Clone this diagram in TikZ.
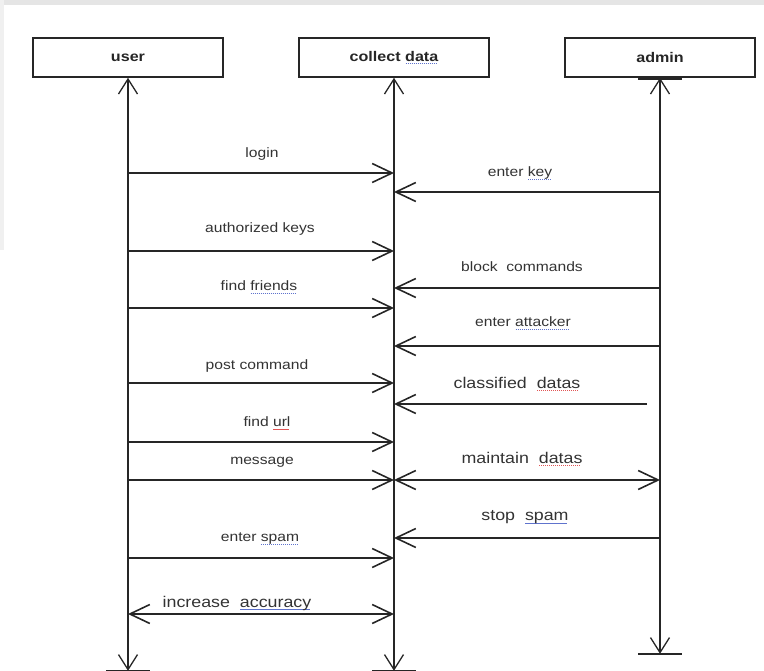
\documentclass[tikz,border=0pt]{standalone}
\usepackage{fontspec}
\setmainfont[FakeStretch=1.15]{Liberation Sans}
\usetikzlibrary{arrows.meta, positioning}

\definecolor{sqblue}{RGB}{95,115,205}
\definecolor{sqred}{RGB}{225,85,85}
\newsavebox{\sqword}
\newcommand{\sq}[2]{\sbox{\sqword}{#2}\rlap{\raisebox{-3pt}{\textcolor{#1}{\hbox to \wd\sqword{\leaders\hbox to 2pt{\hss\rule{1.2pt}{0.9pt}\hss}\hfill}}}}\usebox{\sqword}}

\tikzstyle{actor} = [rectangle, draw=black!85, line width=1.6pt, minimum width=190pt, minimum height=39pt, text=black!85, font=\bfseries\fontsize{14}{16}\selectfont]
\tikzstyle{life} = [line width=1.3pt, draw=black!85, <->, >={Straight Barb[length=15pt,width=19pt]}]
\tikzstyle{tee} = [line width=2.2pt, draw=black!85]
\tikzstyle{msg} = [line width=1.6pt, draw=black!85, ->, >={Straight Barb[length=20pt,width=19pt]}]
\tikzstyle{lbl} = [inner sep=0pt, text=black!80, font=\fontsize{13.6}{16}\selectfont]
\tikzstyle{biglbl} = [inner sep=0pt, text=black!80, font=\fontsize{15.5}{18}\selectfont]

\begin{document}
\begin{tikzpicture}[x=1pt, y=-1pt, node distance=266pt]
\useasboundingbox (0,0) rectangle (764,671);
\fill [black!10] (0,0) rectangle (764,5);
\fill [black!6] (0,0) rectangle (4,250);

% lifelines
\node (user) [actor] at (128,57.5) {user};
\node (data) [actor, right of = user] {collect \sq{sqblue}{data}};
\node (admin) [actor, right of = data] {admin};

\coordinate (userend) at ([yshift=-593pt]user.south);
\coordinate (dataend) at ([yshift=-593pt]data.south);
\coordinate (adminend) at ([yshift=-576pt]admin.south);

\draw [life] (user.south) -- (userend);
\draw [life] (data.south) -- (dataend);
\draw [life] (admin.south) -- (adminend);
\draw [tee] ([xshift=-22pt]userend) -- ([xshift=22pt]userend);
\draw [tee] ([xshift=-22pt]dataend) -- ([xshift=22pt]dataend);
\draw [tee] ([xshift=-22pt]adminend) -- ([xshift=22pt]adminend);
\draw [tee] ([xshift=-22pt,yshift=-1.5pt]admin.south) -- ([xshift=22pt,yshift=-1.5pt]admin.south);

% user -> collect data
\node (login) [lbl] at (262,154) {login};
\draw [msg] (user |- 0,173) -- (data |- 0,173);
\node (authkeys) [lbl] at (260,229) {authorized keys};
\draw [msg] (user |- 0,251) -- (data |- 0,251);
\node (friends) [lbl] at (259,287) {find \sq{sqblue}{friends}};
\draw [msg] (user |- 0,308) -- (data |- 0,308);
\node (post) [lbl] at (257,366) {post command};
\draw [msg] (user |- 0,383) -- (data |- 0,383);
\node (url) [lbl] at (267,423) {find \sq{sqred}{url}};
\draw [msg] (user |- 0,442) -- (data |- 0,442);
\node (message) [lbl] at (262,462) {message};
\draw [msg] (user |- 0,480) -- (data |- 0,480);
\node (spam) [lbl] at (260,539) {enter \sq{sqblue}{spam}};
\draw [msg] (user |- 0,558) -- (data |- 0,558);
\node (accuracy) [biglbl] at (237,603) {increase\ \ \sq{sqblue}{accuracy}};
\draw [msg, <->] (user |- 0,614) -- (data |- 0,614);

% admin -> collect data
\node (key) [lbl] at (520,173) {enter \sq{sqblue}{key}};
\draw [msg] (admin |- 0,192) -- (data |- 0,192);
\node (block) [lbl] at (522,267) {block\ \ commands};
\draw [msg] (admin |- 0,288) -- (data |- 0,288);
\node (attacker) [lbl] at (523,323) {enter \sq{sqblue}{attacker}};
\draw [msg] (admin |- 0,346) -- (data |- 0,346);
\node (classified) [biglbl] at (517,384) {classified\ \ \sq{sqred}{datas}};
\coordinate (clsstart) at (647,404);
\draw [msg] (clsstart) -- (data |- clsstart);
\node (maintain) [biglbl] at (522,459) {maintain\ \ \sq{sqred}{datas}};
\draw [msg, <->] (data |- 0,480) -- (admin |- 0,480);
\node (stop) [biglbl] at (525,517) {stop\ \ \sq{sqblue}{spam}};
\draw [msg] (admin |- 0,538) -- (data |- 0,538);

\end{tikzpicture}
\end{document}
